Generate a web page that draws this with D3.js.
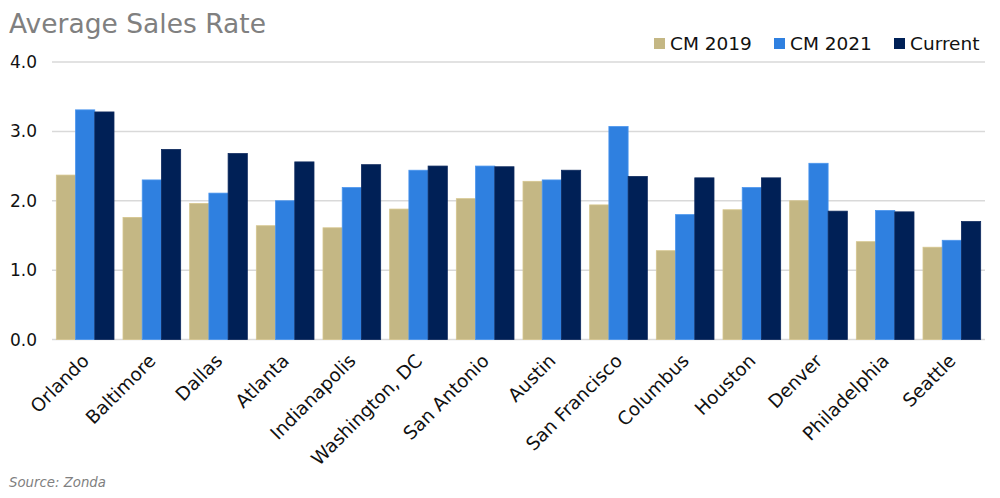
<!DOCTYPE html>
<html><head><meta charset="utf-8">
<script src="https://cdn.jsdelivr.net/npm/d3@7"></script>
<style>body{margin:0;background:#fff}svg{display:block;font-family:"DejaVu Sans",sans-serif}</style>
</head><body><svg id="c" width="1000" height="498"></svg>
<script>
const categories = ["Orlando","Baltimore","Dallas","Atlanta","Indianapolis","Washington, DC","San Antonio","Austin","San Francisco","Columbus","Houston","Denver","Philadelphia","Seattle"];
const cm2019 = [2.37,1.76,1.96,1.64,1.61,1.88,2.03,2.28,1.94,1.28,1.87,2.00,1.41,1.33];
const cm2021 = [3.31,2.30,2.11,2.00,2.19,2.44,2.50,2.30,3.07,1.80,2.19,2.54,1.86,1.43];
const current = [3.28,2.74,2.68,2.56,2.52,2.50,2.49,2.44,2.35,2.33,2.33,1.85,1.84,1.70];
const seriesNames = ["CM 2019","CM 2021","Current"];
const yTicks = [0,1,2,3,4];
const colors = ["#C4B784","#2F80E0","#002056"];
const strokes = ["#D6C68E","#4A95EE","#0E2A5E"];

const svg = d3.select("#c");
const x0 = d3.scaleBand().domain(categories).range([52,985]).paddingInner(0.135).paddingOuter(0.065);
const x1 = d3.scaleBand().domain(seriesNames).range([0,x0.bandwidth()]).padding(0);
const y = d3.scaleLinear().domain([0,4]).range([339.5,62]);

// gridlines
svg.append("g").selectAll("line").data(yTicks).join("line")
  .attr("x1",52).attr("x2",985).attr("y1",d=>y(d)).attr("y2",d=>y(d))
  .attr("stroke","#d9d9d9").attr("stroke-width",1.5);

// y tick labels
svg.append("g").selectAll("text").data(yTicks).join("text")
  .attr("x",10).attr("y",d=>y(d)+6).attr("font-size",17).attr("fill","#111")
  .text(d=>d.toFixed(1));

const data = [cm2019,cm2021,current];
const g = svg.append("g");
categories.forEach((c,i)=>{
  seriesNames.forEach((s,j)=>{
    const v = data[j][i];
    g.append("rect").attr("x",x0(c)+x1(s)).attr("width",x1.bandwidth())
      .attr("y",y(v)).attr("height",y(0)-y(v))
      .attr("fill",colors[j]).attr("stroke",strokes[j]).attr("stroke-width",0.8);
  });
});

// x labels
svg.append("g").selectAll("text").data(categories).join("text")
  .attr("transform",d=>`translate(${x0(d)+x0.bandwidth()/2+5},${362}) rotate(-45)`)
  .attr("text-anchor","end").attr("font-size",18.5).attr("fill","#111").text(d=>d);

// title
svg.append("text").attr("x",9).attr("y",33).attr("font-size",26.5).attr("fill","#808080").text("Average Sales Rate");

// legend
const legX = [654,774,894];
seriesNames.forEach((s,j)=>{
  svg.append("rect").attr("x",legX[j]).attr("y",38).attr("width",11).attr("height",11).attr("fill",colors[j]);
  svg.append("text").attr("x",legX[j]+16).attr("y",50).attr("font-size",18.5).attr("fill","#111").text(s);
});

// source
svg.append("text").attr("x",9).attr("y",487).attr("font-size",13.3).attr("font-style","italic").attr("fill","#808080").text("Source: Zonda");
</script></body></html>
